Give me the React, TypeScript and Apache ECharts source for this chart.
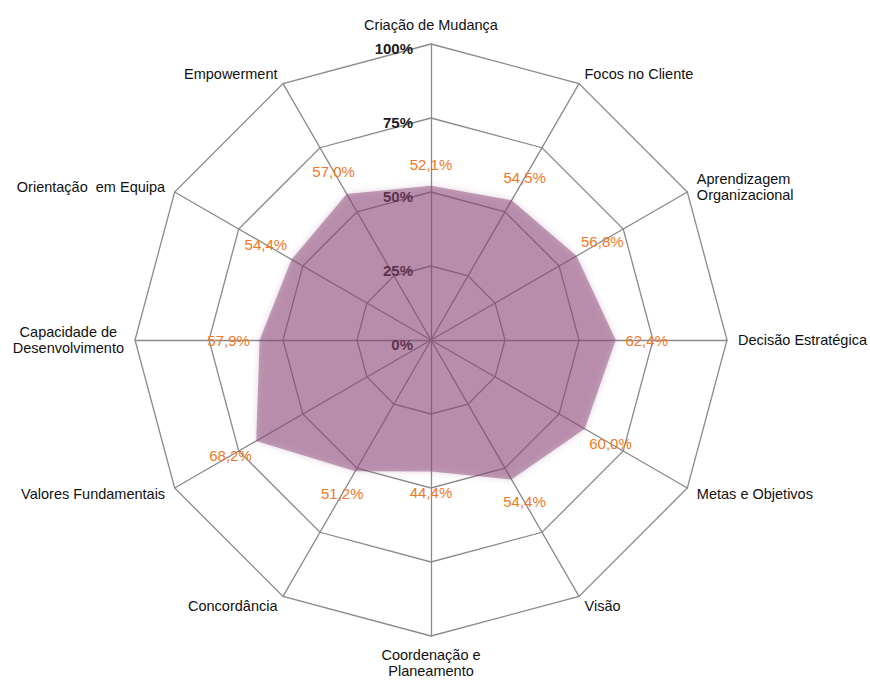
import React, { useEffect, useRef } from "react";
import * as echarts from "echarts";

// Indicators in clockwise order starting at the top
const categories: string[] = [
  "Criação de Mudança",
  "Focos no Cliente",
  "Aprendizagem\nOrganizacional",
  "Decisão Estratégica",
  "Metas e Objetivos",
  "Visão",
  "Coordenação e\nPlaneamento",
  "Concordância",
  "Valores Fundamentais",
  "Capacidade de\nDesenvolvimento",
  "Orientação  em Equipa",
  "Empowerment",
];

const values: number[] = [52.1, 54.5, 56.8, 62.4, 60.0, 54.4, 44.4, 51.2, 68.2, 57.9, 54.4, 57.0];

const axisMax = 100;
const axisSplits = 4;

const CX = 431;
const CY = 340;
const RADIUS = 296;
const FONT = "Liberation Sans, Arial, Helvetica, sans-serif";

export default function App() {
  const ref = useRef<HTMLDivElement>(null);

  useEffect(() => {
    if (!ref.current) return;
    const chart = echarts.init(ref.current, undefined, { renderer: "svg" });

    // ECharts lays radar indicators counter-clockwise; reorder to get clockwise
    const order = categories.map((_, i) => (i === 0 ? 0 : categories.length - i));
    const indicator = order.map((idx, k) => ({
      name: categories[idx],
      max: axisMax,
      min: 0,
      axisLabel: { show: k === 0 },
    }));
    const ordered = order.map((idx) => values[idx]);

    chart.setOption({
      animation: false,
      backgroundColor: "#ffffff",
      radar: {
        center: [CX, CY],
        radius: RADIUS,
        startAngle: 90,
        shape: "polygon",
        splitNumber: axisSplits,
        indicator,
        axisName: {
          color: "#111111",
          fontSize: 14.5,
          fontFamily: FONT,
          lineHeight: 16,
          formatter: (name: string) =>
            name.startsWith("Capacidade")
              ? name
                  .split("\n")
                  .map((l) => `{c|${l}}`)
                  .join("\n")
              : name,
          rich: {
            c: {
              align: "center",
              color: "#111111",
              fontSize: 14.5,
              fontFamily: FONT,
              lineHeight: 16,
            },
          },
        },
        nameGap: 11,
        axisLine: { lineStyle: { color: "#8a8a8a", width: 1.3 } },
        splitLine: { lineStyle: { color: "#8a8a8a", width: 1.3 } },
        splitArea: { show: false },
        axisTick: { show: false },
        axisLabel: {
          show: false,
          color: "#1a1a1a",
          fontSize: 15,
          fontWeight: "bold",
          fontFamily: FONT,
          margin: 18,
          verticalAlign: "top",
          lineHeight: 8,
          formatter: (v: number) => `${v}%`,
        },
      },
      series: [
        {
          type: "radar",
          z: 1,
          symbol: "circle",
          symbolSize: 2,
          itemStyle: { color: "rgba(0,0,0,0)" },
          lineStyle: { width: 0, color: "rgba(0,0,0,0)" },
          areaStyle: {
            color: "rgba(135,65,115,0.68)",
            shadowBlur: 6,
            shadowColor: "rgba(135,65,115,0.5)",
          },
          label: {
            show: true,
            color: "#f07828",
            fontSize: 15,
            fontFamily: FONT,
            formatter: (p: any) => `${Number(p.value).toFixed(1).replace(".", ",")}%`,
          },
          labelLayout: (p: any) => {
            const px = p.rect.x + p.rect.width / 2;
            const py = p.rect.y + p.rect.height / 2;
            const dx = px - CX;
            const dy = py - CY;
            const len = Math.sqrt(dx * dx + dy * dy) || 1;
            const ux = dx / len;
            const uy = dy / len;
            const d = 21 + 10 * Math.abs(ux);
            return {
              x: px + ux * d,
              y: py + uy * d,
              align: "center",
              verticalAlign: "middle",
            };
          },
          data: [{ value: ordered, name: "Cultura" }],
        },
      ],
    });

    return () => chart.dispose();
  }, []);

  return (
    <div
      ref={ref}
      style={{ position: "absolute", left: 0, top: 0, width: 870, height: 682 }}
    />
  );
}
